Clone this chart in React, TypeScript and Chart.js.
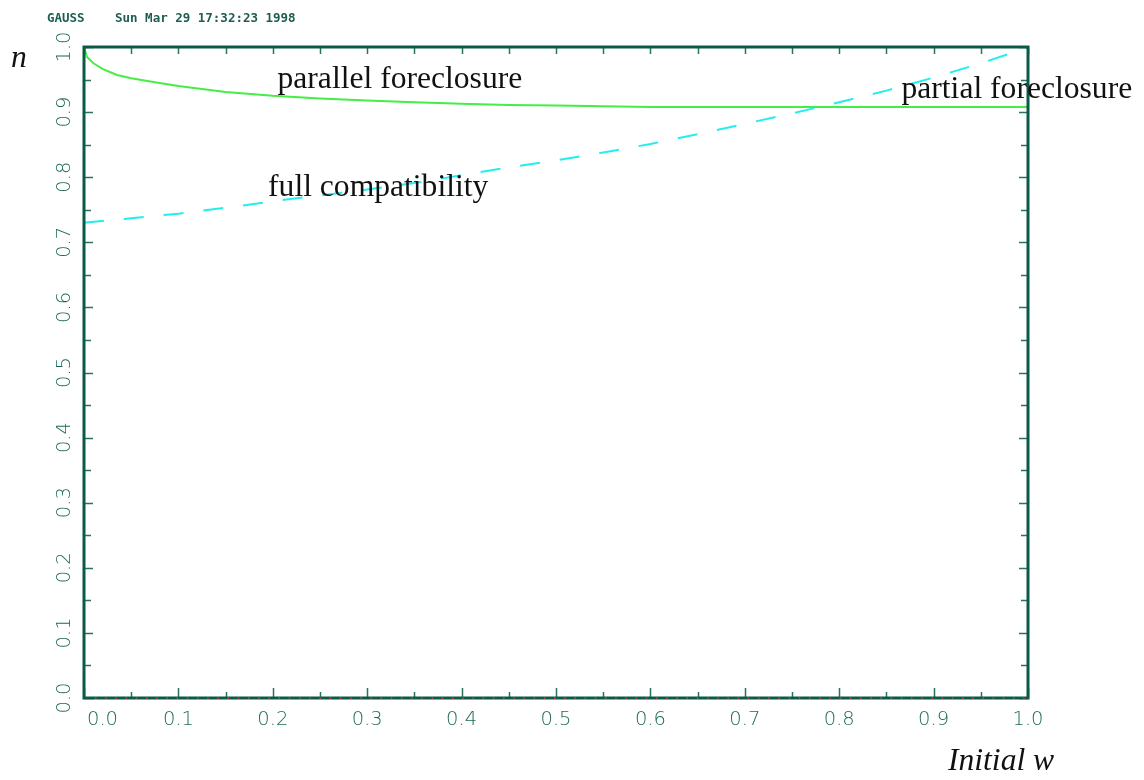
import React, { useEffect, useRef } from "react";
import { Chart, registerables } from "chart.js";

Chart.register(...registerables);

// ---- data ----
const parallelW = [0, 0.003, 0.01, 0.02, 0.035, 0.05, 0.075, 0.1, 0.15, 0.2, 0.25, 0.3, 0.35, 0.4, 0.45, 0.5, 0.55, 0.6, 0.7, 0.8, 0.9, 1.0];
const parallelN = [1.0, 0.985, 0.975, 0.966, 0.957, 0.952, 0.946, 0.94, 0.931, 0.925, 0.921, 0.918, 0.915, 0.913, 0.911, 0.91, 0.909, 0.908, 0.908, 0.908, 0.908, 0.908];

const compatW = [0, 0.05, 0.1, 0.15, 0.2, 0.25, 0.3, 0.35, 0.4, 0.45, 0.5, 0.55, 0.6, 0.65, 0.7, 0.75, 0.8, 0.85, 0.9, 0.95, 1.0];
const compatN = [0.73, 0.737, 0.744, 0.753, 0.763, 0.772, 0.781, 0.791, 0.803, 0.815, 0.826, 0.838, 0.851, 0.866, 0.882, 0.898, 0.915, 0.933, 0.953, 0.975, 0.999];

const xTickLabels = ["0.0", "0.1", "0.2", "0.3", "0.4", "0.5", "0.6", "0.7", "0.8", "0.9", "1.0"];
const yTickLabels = ["0.0", "0.1", "0.2", "0.3", "0.4", "0.5", "0.6", "0.7", "0.8", "0.9", "1.0"];

// curve annotations: [text, w, n]
const curveLabels: [string, number, number][] = [
  ["parallel foreclosure", 0.205, 0.937],
  ["full compatibility", 0.195, 0.771],
  ["partial foreclosure", 0.866, 0.922],
];

const headerLeft = "GAUSS";
const headerRight = "Sun Mar 29 17:32:23 1998";
const yTitle = "n";
const xTitle = "Initial w";

const AXIS = "#0a5a48";
const TICK = "#2a7262";
const LABEL = "#1c6a5a";

const decorPlugin = {
  id: "gaussDecor",
  afterDraw(chart: any) {
    const ctx: CanvasRenderingContext2D = chart.ctx;
    const { left, right, top, bottom } = chart.chartArea;
    const xs = chart.scales.x;
    const ys = chart.scales.y;
    ctx.save();

    // ticks (major at labels, minor in between)
    const xVals = xTickLabels.map((t) => parseFloat(t));
    const yVals = yTickLabels.map((t) => parseFloat(t));
    ctx.strokeStyle = TICK;
    ctx.lineWidth = 1.5;
    const drawXTick = (v: number, len: number, lenTop: number) => {
      const px = Math.round(xs.getPixelForValue(v)) + 0.5;
      ctx.beginPath();
      ctx.moveTo(px, bottom);
      ctx.lineTo(px, bottom - len);
      ctx.moveTo(px, top);
      ctx.lineTo(px, top + lenTop);
      ctx.stroke();
    };
    const drawYTick = (v: number, len: number) => {
      const py = Math.round(ys.getPixelForValue(v)) + 0.5;
      ctx.beginPath();
      ctx.moveTo(left, py);
      ctx.lineTo(left + len, py);
      ctx.moveTo(right, py);
      ctx.lineTo(right - len, py);
      ctx.stroke();
    };
    xVals.forEach((v, i) => {
      drawXTick(v, 10, 7);
      if (i < xVals.length - 1) drawXTick((v + xVals[i + 1]) / 2, 6, 7);
    });
    yVals.forEach((v, i) => {
      drawYTick(v, 9);
      if (i < yVals.length - 1) drawYTick((v + yVals[i + 1]) / 2, 7);
    });

    // frame
    ctx.strokeStyle = AXIS;
    ctx.lineWidth = 3;
    ctx.strokeRect(left, top, right - left, bottom - top);

    // faint red dots along the bottom axis
    ctx.strokeStyle = "#e23a3a";
    ctx.lineWidth = 1.5;
    ctx.setLineDash([1.5, 8.7]);
    ctx.beginPath();
    ctx.moveTo(left + 11, bottom);
    ctx.lineTo(right, bottom);
    ctx.stroke();
    ctx.setLineDash([]);

    // tick labels
    ctx.fillStyle = LABEL;
    ctx.font = '200 19.5px "DejaVu Sans"';
    ctx.textBaseline = "middle";
    xTickLabels.forEach((t, i) => {
      const px = xs.getPixelForValue(xVals[i]);
      if (i === 0) {
        ctx.textAlign = "left";
        ctx.fillText(t, px + 3, bottom + 22);
      } else {
        ctx.textAlign = "center";
        ctx.fillText(t, px, bottom + 22);
      }
    });
    yTickLabels.forEach((t, i) => {
      const py = ys.getPixelForValue(yVals[i]);
      ctx.save();
      ctx.translate(left - 19, py);
      ctx.rotate(-Math.PI / 2);
      ctx.textAlign = "center";
      ctx.fillText(t, 0, 0);
      ctx.restore();
    });

    // header
    ctx.font = 'bold 12.5px "DejaVu Sans Mono"';
    ctx.fillStyle = "#1d5e50";
    ctx.textAlign = "left";
    ctx.textBaseline = "alphabetic";
    ctx.fillText(headerLeft, 47, 22);
    ctx.fillText(headerRight, 115, 22);

    // curve labels
    ctx.fillStyle = "#111111";
    ctx.font = '31.6px "Liberation Serif"';
    curveLabels.forEach(([text, w, n]) => {
      ctx.fillText(text, xs.getPixelForValue(w), ys.getPixelForValue(n));
    });

    // axis titles
    ctx.font = 'italic 31.6px "Liberation Serif"';
    ctx.fillText(yTitle, 11, top + 20);
    ctx.fillText(xTitle, right - 80, bottom + 72);

    ctx.restore();
  },
};

export default function App() {
  const ref = useRef<HTMLCanvasElement | null>(null);
  useEffect(() => {
    const canvas = ref.current;
    if (!canvas) return;
    const chart = new Chart(canvas, {
      type: "scatter",
      data: {
        datasets: [
          {
            label: "parallel foreclosure",
            data: parallelW.map((w, i) => ({ x: w, y: parallelN[i] })),
            showLine: true,
            borderColor: "#44ee44",
            borderWidth: 2,
            pointRadius: 0,
            tension: 0,
          },
          {
            label: "full compatibility",
            data: compatW.map((w, i) => ({ x: w, y: compatN[i] })),
            showLine: true,
            borderColor: "#22eeee",
            borderWidth: 2,
            borderDash: [20, 20],
            pointRadius: 0,
            tension: 0,
          },
        ],
      },
      options: {
        responsive: false,
        animation: false,
        devicePixelRatio: 1,
        layout: { padding: { left: 84, top: 47, right: 116, bottom: 82 } },
        plugins: { legend: { display: false }, tooltip: { enabled: false } },
        scales: {
          x: { type: "linear", min: 0, max: 1, display: false },
          y: { type: "linear", min: 0, max: 1, display: false },
        },
      },
      plugins: [decorPlugin],
    });
    return () => chart.destroy();
  }, []);
  return (
    <div style={{ position: "absolute", left: 0, top: 0, width: 1144, height: 780, background: "#ffffff" }}>
      <canvas ref={ref} width={1144} height={780} />
    </div>
  );
}
